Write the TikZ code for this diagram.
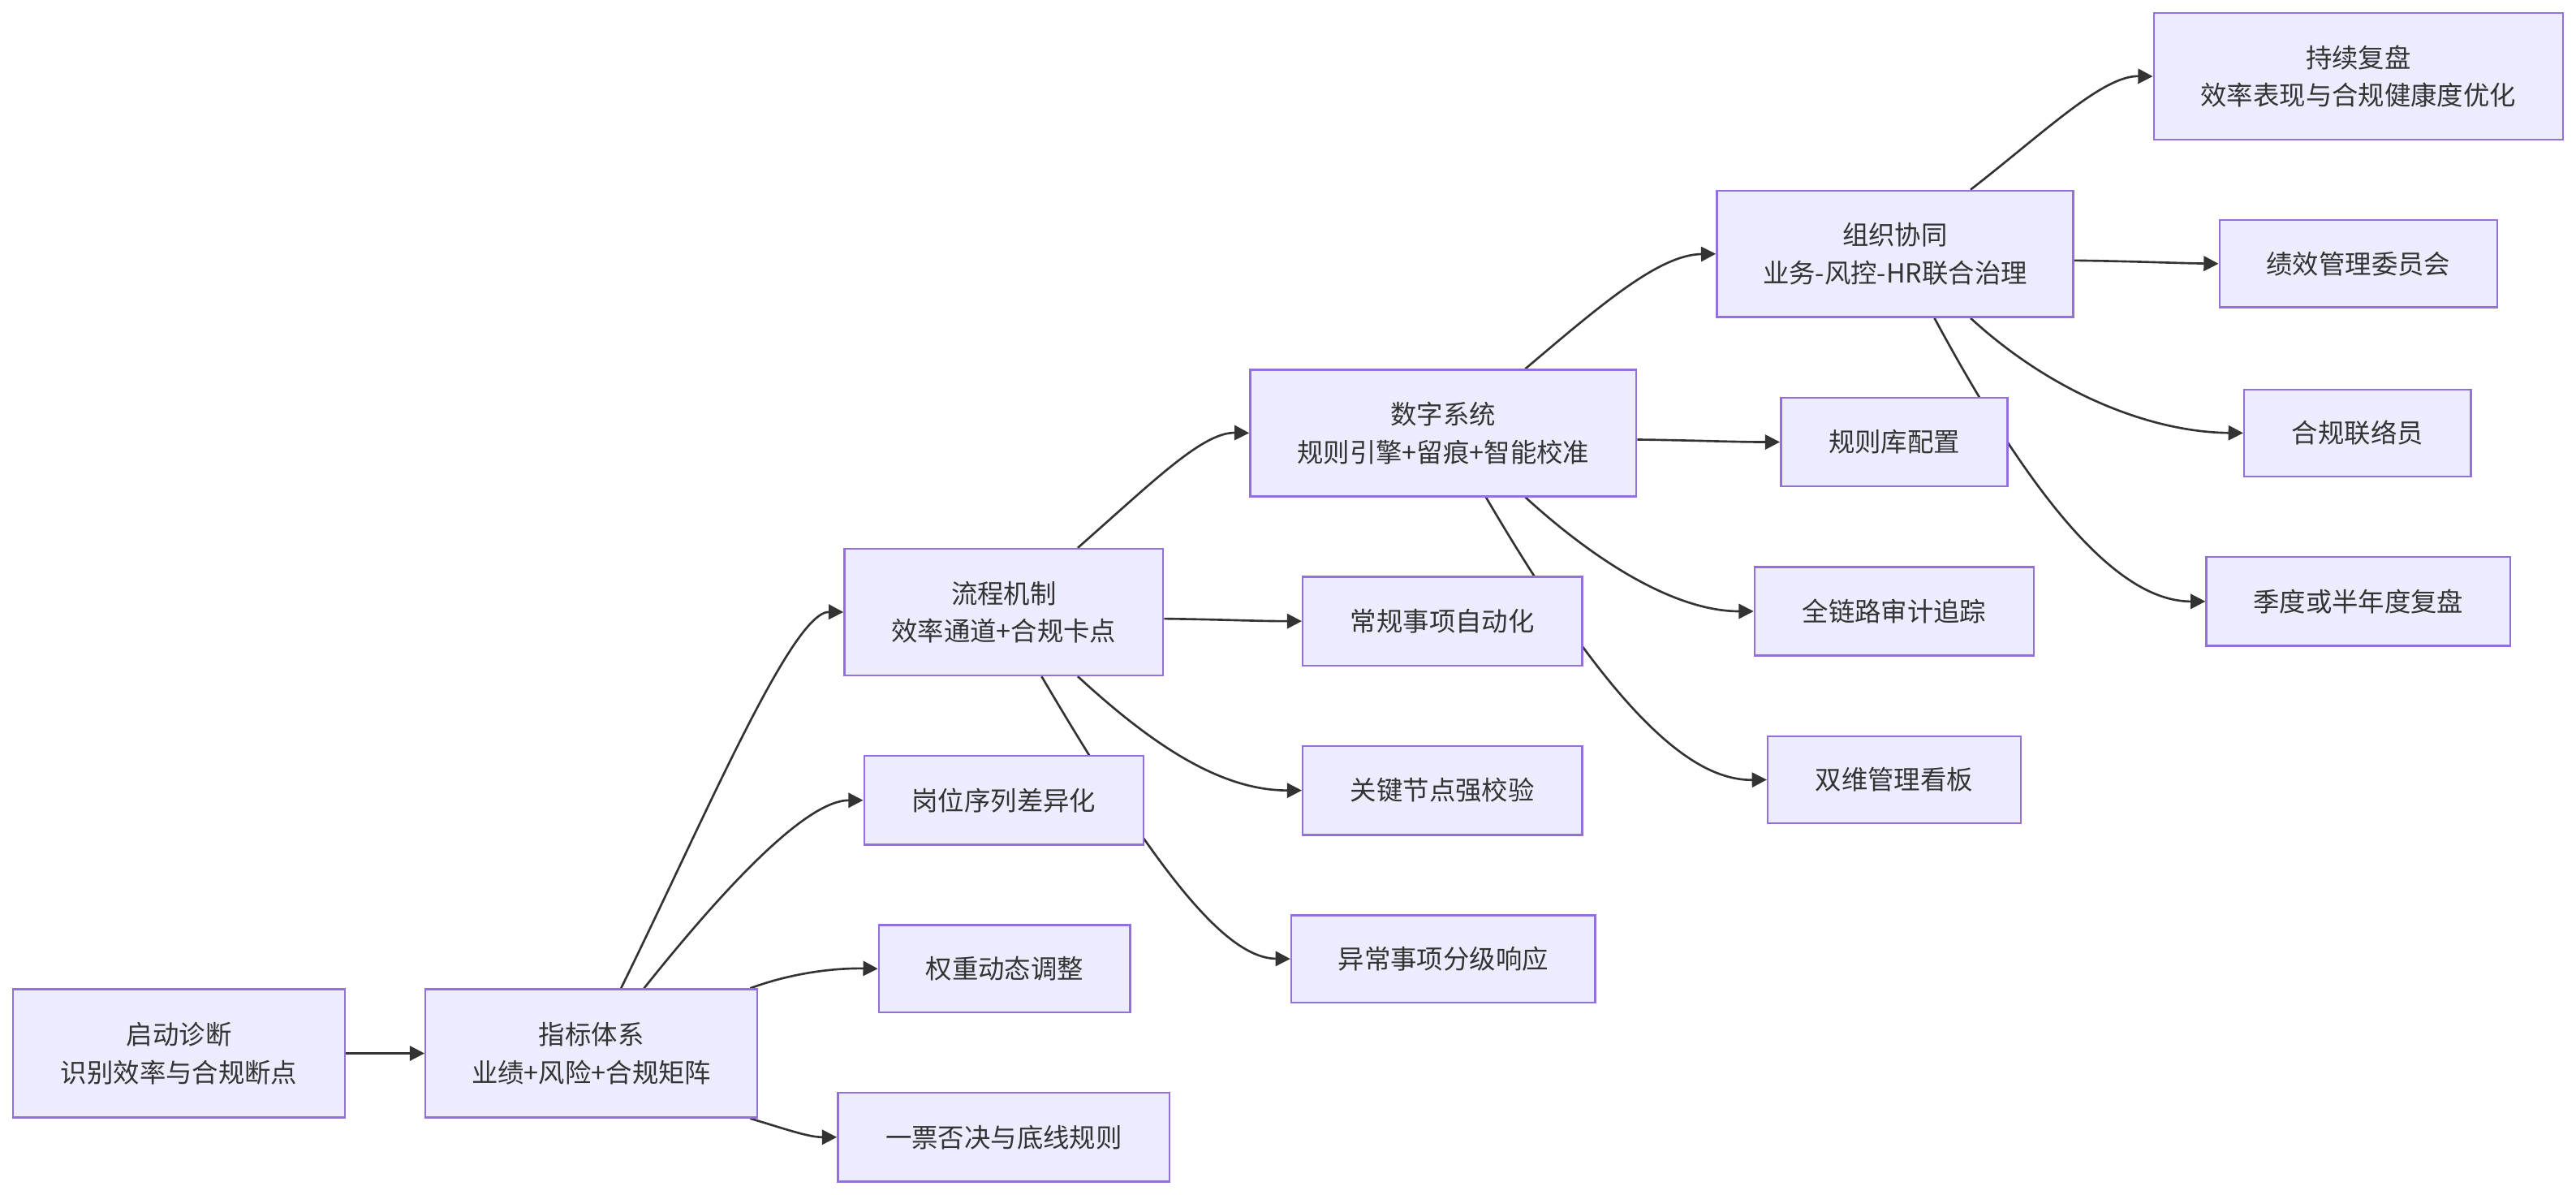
\documentclass[tikz,border=0pt]{standalone}
\usepackage{fontspec}
\setmainfont{Noto Sans CJK SC}
\usetikzlibrary{arrows.meta,calc,backgrounds}
\definecolor{boxfill}{HTML}{ECECFF}
\definecolor{boxline}{HTML}{9370DB}
\definecolor{ink}{HTML}{333333}
\begin{document}
\begin{tikzpicture}[x=0.5pt,y=-0.5pt,
  box/.style={draw=boxline,fill=boxfill,line width=0.6pt,inner sep=0pt,align=center,
    text=ink,font=\fontsize{8}{11.5}\selectfont},
  conn/.style={draw=ink,line width=0.65pt,-{Triangle[length=4.5pt,width=4.5pt]}}]
\useasboundingbox (0,0) rectangle (1568,727);
% nodes
\node[box,minimum width=101pt,minimum height=39pt] (A) at (109,641) {启动诊断\\识别效率与合规断点};
\node[box,minimum width=101pt,minimum height=39pt] (B) at (360,641) {指标体系\\业绩+风险+合规矩阵};
\node[box,minimum width=97pt,minimum height=38.5pt] (C) at (611,372.5) {流程机制\\效率通道+合规卡点};
\node[box,minimum width=85pt,minimum height=27pt] (D) at (611,487) {岗位序列差异化};
\node[box,minimum width=76.5pt,minimum height=26.5pt] (E) at (611.5,589.5) {权重动态调整};
\node[box,minimum width=101pt,minimum height=27pt] (F) at (611,692) {一票否决与底线规则};
\node[box,minimum width=117.5pt,minimum height=38.5pt] (G) at (878.5,263.5) {数字系统\\规则引擎+留痕+智能校准};
\node[box,minimum width=85pt,minimum height=27pt] (H) at (878,378) {常规事项自动化};
\node[box,minimum width=85pt,minimum height=27pt] (I) at (878,481) {关键节点强校验};
\node[box,minimum width=92.5pt,minimum height=26.5pt] (J) at (878.5,583.5) {异常事项分级响应};
\node[box,minimum width=108.5pt,minimum height=38.5pt] (K) at (1153.5,154.5) {组织协同\\业务-风控-HR联合治理};
\node[box,minimum width=69pt,minimum height=27pt] (L) at (1153,269) {规则库配置};
\node[box,minimum width=85pt,minimum height=27pt] (M) at (1153,372) {全链路审计追踪};
\node[box,minimum width=77pt,minimum height=26.5pt] (N) at (1153,474.5) {双维管理看板};
\node[box,minimum width=124.5pt,minimum height=38.5pt] (O) at (1435.5,46.5) {持续复盘\\效率表现与合规健康度优化};
\node[box,minimum width=84.5pt,minimum height=26.5pt] (P) at (1435.5,160.5) {绩效管理委员会};
\node[box,minimum width=69pt,minimum height=26.5pt] (Q) at (1435,263.5) {合规联络员};
\node[box,minimum width=92.5pt,minimum height=27pt] (R) at (1435.5,366) {季度或半年度复盘};
% connectors
\begin{pgfonlayer}{background}
\draw[conn] (A.east) -- (B.west);
\draw[conn] ($(B.north)+(18,0)$) .. controls (428,500) and (482,372) .. (C.west);
\draw[conn] ($(B.north)+(32,0)$) .. controls (445,535) and (492,487) .. (D.west);
\draw[conn] ($(B.north east)+(-5,0)$) .. controls (482,592) and (508,589) .. (E.west);
\draw[conn] ($(B.south east)+(-5,0)$) .. controls (478,687) and (492,692) .. (F.west);
\draw[conn] ($(C.north)+(45,0)$) .. controls (702,293) and (732,263) .. (G.west);
\draw[conn] ($(C.east)+(0,4)$) .. controls (745,377) and (765,378) .. (H.west);
\draw[conn] ($(C.south)+(45,0)$) .. controls (700,452) and (742,481) .. (I.west);
\draw[conn] ($(C.south)+(23,0)$) .. controls (702,527) and (745,583) .. (J.west);
\draw[conn] ($(G.north)+(50,0)$) .. controls (975,185) and (1010,155) .. (K.west);
\draw[conn] ($(G.east)+(0,4)$) .. controls (1035,268) and (1055,269) .. (L.west);
\draw[conn] ($(G.south)+(50,0)$) .. controls (975,345) and (1022,372) .. (M.west);
\draw[conn] ($(G.south)+(26,0)$) .. controls (985,440) and (1032,475) .. (N.west);
\draw[conn] ($(K.north)+(46,0)$) .. controls (1245,80) and (1280,46) .. (O.west);
\draw[conn] ($(K.east)+(0,4)$) .. controls (1300,159) and (1320,160) .. (P.west);
\draw[conn] ($(K.south)+(46,0)$) .. controls (1250,240) and (1310,263) .. (Q.west);
\draw[conn] ($(K.south)+(24,0)$) .. controls (1252,332) and (1300,366) .. (R.west);
\end{pgfonlayer}
\end{tikzpicture}
\end{document}
